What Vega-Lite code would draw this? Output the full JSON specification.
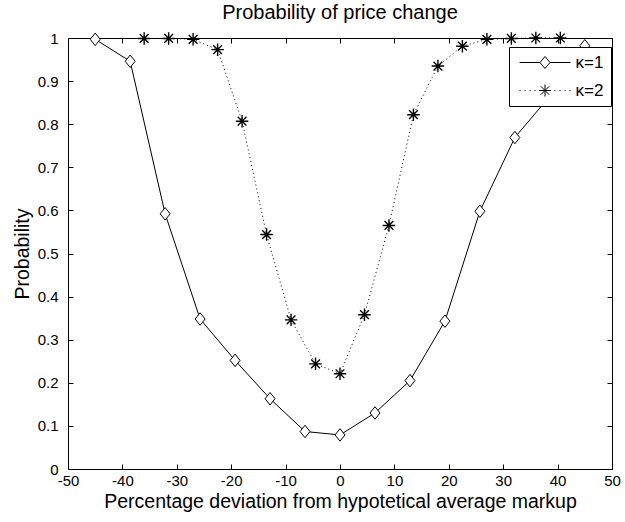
{
  "$schema": "https://vega.github.io/schema/vega-lite/v6.json",
  "width": 544,
  "height": 431,
  "autosize": {"type": "none"},
  "padding": {"left": 68, "top": 38, "right": 13, "bottom": 53},
  "background": "white",
  "title": {
    "text": "Probability of price change",
    "font": "Liberation Sans",
    "fontSize": 20,
    "fontWeight": "normal",
    "color": "black",
    "frame": "group",
    "anchor": "middle",
    "baseline": "alphabetic",
    "offset": 13,
    "dy": 23
  },
  "config": {
    "font": "Liberation Sans",
    "view": {"stroke": "black", "strokeWidth": 1},
    "axis": {
      "grid": false,
      "domain": false,
      "tickColor": "black",
      "tickSize": -5,
      "tickWidth": 1,
      "labelColor": "black",
      "labelFont": "Liberation Sans",
      "labelFontSize": 15,
      "labelFlush": false,
      "labelOverlap": false,
      "titleColor": "black",
      "titleFont": "Liberation Sans",
      "titleFontSize": 19.5,
      "titleFontWeight": "normal"
    }
  },
  "datasets": {
    "curves": [
      {"series": "κ=1", "deviation": -45, "probability": 0.997},
      {"series": "κ=1", "deviation": -38.571, "probability": 0.946},
      {"series": "κ=1", "deviation": -32.143, "probability": 0.592},
      {"series": "κ=1", "deviation": -25.714, "probability": 0.348},
      {"series": "κ=1", "deviation": -19.286, "probability": 0.252},
      {"series": "κ=1", "deviation": -12.857, "probability": 0.163},
      {"series": "κ=1", "deviation": -6.429, "probability": 0.087},
      {"series": "κ=1", "deviation": 0, "probability": 0.079},
      {"series": "κ=1", "deviation": 6.429, "probability": 0.13},
      {"series": "κ=1", "deviation": 12.857, "probability": 0.205},
      {"series": "κ=1", "deviation": 19.286, "probability": 0.343},
      {"series": "κ=1", "deviation": 25.714, "probability": 0.598},
      {"series": "κ=1", "deviation": 32.143, "probability": 0.769},
      {"series": "κ=1", "deviation": 38.571, "probability": 0.865},
      {"series": "κ=1", "deviation": 45, "probability": 0.982},
      {"series": "κ=2", "deviation": -36, "probability": 0.999},
      {"series": "κ=2", "deviation": -31.5, "probability": 0.999},
      {"series": "κ=2", "deviation": -27, "probability": 0.997},
      {"series": "κ=2", "deviation": -22.5, "probability": 0.973},
      {"series": "κ=2", "deviation": -18, "probability": 0.807},
      {"series": "κ=2", "deviation": -13.5, "probability": 0.544},
      {"series": "κ=2", "deviation": -9, "probability": 0.346},
      {"series": "κ=2", "deviation": -4.5, "probability": 0.244},
      {"series": "κ=2", "deviation": 0, "probability": 0.221},
      {"series": "κ=2", "deviation": 4.5, "probability": 0.358},
      {"series": "κ=2", "deviation": 9, "probability": 0.565},
      {"series": "κ=2", "deviation": 13.5, "probability": 0.822},
      {"series": "κ=2", "deviation": 18, "probability": 0.935},
      {"series": "κ=2", "deviation": 22.5, "probability": 0.981},
      {"series": "κ=2", "deviation": 27, "probability": 0.997},
      {"series": "κ=2", "deviation": 31.5, "probability": 0.999},
      {"series": "κ=2", "deviation": 36, "probability": 1},
      {"series": "κ=2", "deviation": 40.5, "probability": 1}
    ]
  },
  "data": {"name": "curves"},
  "layer": [
    {
      "transform": [{"filter": "datum.series === 'κ=1'"}],
      "mark": {"type": "line", "color": "black", "strokeWidth": 1},
      "encoding": {
        "x": {
          "field": "deviation",
          "type": "quantitative",
          "scale": {"domain": [-50, 50], "nice": false, "zero": false},
          "axis": {
            "orient": "bottom",
            "values": [-50, -40, -30, -20, -10, 0, 10, 20, 30, 40, 50],
            "labelExpr": "'' + datum.value",
            "labelPadding": 9,
            "title": "Percentage deviation from hypotetical average markup",
            "titlePadding": 4
          }
        },
        "y": {
          "field": "probability",
          "type": "quantitative",
          "scale": {"domain": [0, 1], "nice": false, "zero": false},
          "axis": {
            "orient": "left",
            "values": [0, 0.1, 0.2, 0.3, 0.4, 0.5, 0.6, 0.7, 0.8, 0.9, 1],
            "labelExpr": "'' + datum.value",
            "labelPadding": 15,
            "title": "Probability",
            "titlePadding": 5
          }
        }
      }
    },
    {
      "transform": [{"filter": "datum.series === 'κ=2'"}],
      "mark": {"type": "line", "color": "black", "strokeWidth": 1, "strokeDash": [1, 3]},
      "encoding": {
        "x": {"field": "deviation", "type": "quantitative", "axis": null},
        "y": {"field": "probability", "type": "quantitative", "axis": null}
      }
    },
    {
      "transform": [{"filter": "datum.series === 'κ=1'"}],
      "mark": {
        "type": "point",
        "shape": "M0,-1L0.8,0L0,1L-0.8,0Z",
        "size": 156,
        "filled": true,
        "fill": "white",
        "stroke": "black",
        "strokeWidth": 1,
        "opacity": 1
      },
      "encoding": {
        "x": {"field": "deviation", "type": "quantitative", "axis": null},
        "y": {"field": "probability", "type": "quantitative", "axis": null}
      }
    },
    {
      "transform": [{"filter": "datum.series === 'κ=2'"}],
      "mark": {
        "type": "point",
        "shape": "M-1,0L1,0M0,-1L0,1M-0.7,-0.7L0.7,0.7M-0.7,0.7L0.7,-0.7",
        "size": 156,
        "filled": false,
        "stroke": "black",
        "strokeWidth": 1.4,
        "opacity": 1
      },
      "encoding": {
        "x": {"field": "deviation", "type": "quantitative", "axis": null},
        "y": {"field": "probability", "type": "quantitative", "axis": null}
      }
    },
    {
      "mark": {"type": "point", "filled": false, "color": "black", "strokeWidth": 1, "opacity": 0},
      "encoding": {
        "x": {
          "field": "deviation",
          "type": "quantitative",
          "axis": {
            "orient": "top",
            "values": [-50, -40, -30, -20, -10, 0, 10, 20, 30, 40, 50],
            "labels": false,
            "title": null
          }
        },
        "y": {
          "field": "probability",
          "type": "quantitative",
          "axis": {
            "orient": "right",
            "values": [0, 0.1, 0.2, 0.3, 0.4, 0.5, 0.6, 0.7, 0.8, 0.9, 1],
            "labels": false,
            "title": null
          }
        },
        "shape": {
          "field": "series",
          "type": "nominal",
          "scale": {
            "domain": ["κ=1", "κ=2"],
            "range": [
              "M-4.25,0L-0.83,0M0.83,0L4.25,0M0,-1L0.83,0L0,1L-0.83,0Z",
              "M-4.25,0L-4.08,0M-3.42,0L-3.25,0M-2.58,0L-2.41,0M-1.75,0L-1.58,0M1.58,0L1.75,0M2.42,0L2.59,0M3.25,0L3.42,0M4.08,0L4.25,0M-1,0L1,0M0,-1L0,1M-0.7,-0.7L0.7,0.7M-0.7,0.7L0.7,-0.7"
            ]
          },
          "legend": {
            "orient": "none",
            "legendX": 441,
            "legendY": 9,
            "title": null,
            "strokeColor": "black",
            "fillColor": "white",
            "cornerRadius": 0,
            "padding": 7,
            "rowPadding": 10,
            "symbolSize": 144,
            "symbolOffset": 20.5,
            "symbolStrokeColor": "black",
            "symbolStrokeWidth": 1,
            "symbolFillColor": "white",
            "labelOffset": 22,
            "labelFont": "Liberation Sans",
            "labelFontSize": 17,
            "labelColor": "black",
            "encode": {"symbols": {"update": {"opacity": {"value": 1}}}}
          }
        }
      }
    }
  ]
}
